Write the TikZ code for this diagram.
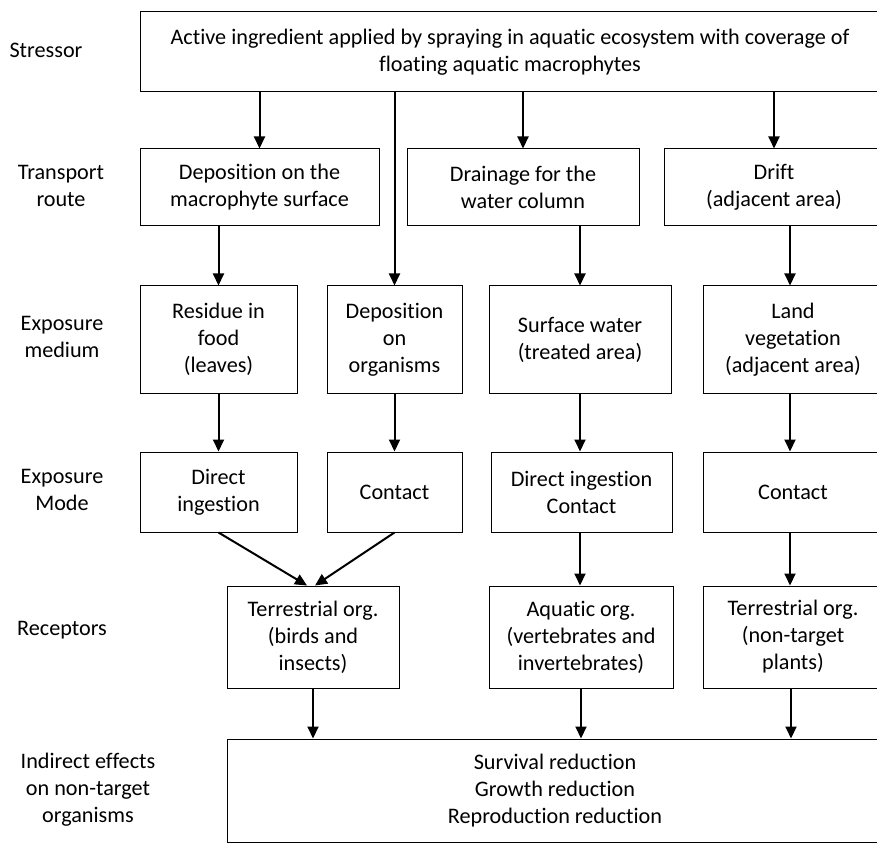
\documentclass[tikz,border=0pt]{standalone}
\usepackage{fontspec}
\setmainfont{Carlito}[Ligatures=NoCommon]
\usetikzlibrary{arrows.meta}

\begin{document}
\begin{tikzpicture}[x=0.5pt,y=-0.5pt,>={Triangle[length=6pt,width=5.5pt]},
  font=\fontsize{11.1}{13.5}\selectfont,
  box node/.style={draw,line width=0.5pt,align=center,inner sep=1pt},
  stage node/.style={align=center,inner sep=0pt}]

  \useasboundingbox (0,0) rectangle (877,844);

  % stage labels
  \node[stage node] (lstress) at (46,50) {Stressor};
  \node[stage node] (lroute) at (61,186) {Transport\\route};
  \node[stage node] (lmedium) at (62,337) {Exposure\\medium};
  \node[stage node] (lmode) at (62,490) {Exposure\\Mode};
  \node[stage node] (lrecept) at (62,630) {Receptors};
  \node[stage node] (leffect) at (88,790) {Indirect effects\\on non-target\\organisms};

  % stressor
  \node[box node,minimum width=370pt,minimum height=40pt] (stress) at (510,52)
    {Active ingredient applied by spraying in aquatic ecosystem with coverage of\\floating aquatic macrophytes};

  % transport route
  \node[box node,minimum width=119.5pt,minimum height=38.5pt] (dep) at (259.5,187.5) {Deposition on the\\macrophyte surface};
  \node[box node,minimum width=116pt,minimum height=38.5pt] (drain) at (523,187.5) {Drainage for the\\water column};
  \node[box node,minimum width=110pt,minimum height=38.5pt] (drift) at (774,187.5) {Drift\\(adjacent area)};

  % exposure medium
  \node[box node,minimum width=78.5pt,minimum height=53.5pt] (res) at (218.5,339.5) {Residue in\\food\\(leaves)};
  \node[box node,minimum width=67.5pt,minimum height=53.5pt] (deporg) at (394.5,339.5) {Deposition\\on\\organisms};
  \node[box node,minimum width=91pt,minimum height=53.5pt] (surf) at (580,339.5) {Surface water\\(treated area)};
  \node[box node,minimum width=90pt,minimum height=53.5pt] (land) at (793,339.5) {Land\\vegetation\\(adjacent area)};

  % exposure mode
  \node[box node,minimum width=78.5pt,minimum height=40pt] (direct) at (218.5,492) {Direct\\ingestion};
  \node[box node,minimum width=67.5pt,minimum height=40pt] (cont1) at (394.5,492) {Contact};
  \node[box node,minimum width=90.5pt,minimum height=40pt] (dircont) at (581.5,492) {Direct ingestion\\Contact};
  \node[box node,minimum width=90pt,minimum height=40pt] (cont2) at (793,492) {Contact};

  % receptors
  \node[box node,minimum width=86pt,minimum height=51pt] (terr) at (313,637) {Terrestrial org.\\(birds and\\insects)};
  \node[box node,minimum width=92pt,minimum height=51pt] (aqua) at (581,637) {Aquatic org.\\(vertebrates and\\invertebrates)};
  \node[box node,minimum width=90pt,minimum height=51pt] (plant) at (793,637) {Terrestrial org.\\(non-target\\plants)};

  % effects
  \node[box node,minimum width=328pt,minimum height=51.5pt] (effect) at (555,790.5) {Survival reduction\\Growth reduction\\Reproduction reduction};

  \path[->,line width=1pt]
    (stress.south -| dep.north) edge (dep.north)
    (stress.south -| deporg.north) edge (deporg.north)
    (stress.south -| drain.north) edge (drain.north)
    (stress.south -| drift.north) edge (drift.north)
    (dep.south -| res.north) edge (res.north)
    (drain.south -| surf.north) edge (surf.north)
    ([xshift=-1.5pt]land.north |- drift.south) edge ([xshift=-1.5pt]land.north)
    (res.south) edge (direct.north)
    (deporg.south) edge (cont1.north)
    (surf.south) edge (surf.south |- dircont.north)
    ([xshift=-1.5pt]cont2.north |- land.south) edge ([xshift=-1.5pt]cont2.north)
    (direct.south) edge ([xshift=-3pt]terr.north)
    (cont1.south) edge ([xshift=1pt]terr.north)
    (dircont.south -| surf.south) edge (surf.south |- aqua.north)
    ([xshift=-1.5pt]cont2.south) edge ([xshift=-1.5pt]plant.north)
    (terr.south) edge (terr.south |- effect.north)
    (aqua.south) edge (aqua.south |- effect.north)
    ([xshift=-1pt]plant.south) edge ([xshift=-1pt]plant.south |- effect.north);
\end{tikzpicture}
\end{document}
